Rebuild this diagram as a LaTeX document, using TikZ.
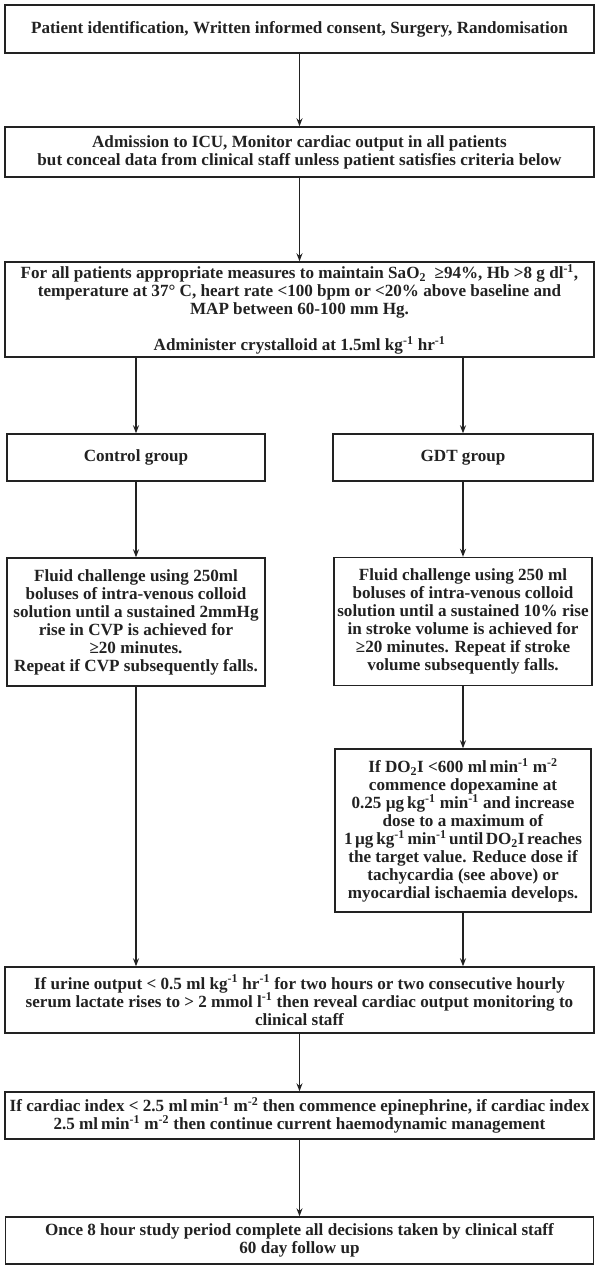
\documentclass[tikz,border=0pt]{standalone}
\usepackage{fontspec}
\setmainfont{Liberation Serif}
\usetikzlibrary{arrows.meta}
\definecolor{ink}{HTML}{222222}
\tikzset{
  box/.style={draw=ink, line width=1.4pt, inner sep=0pt, align=center, text=ink,
    font=\bfseries\fontsize{17.1}{18}\selectfont},
  arr/.style={draw=ink, line width=1.3pt, -{Stealth[length=8pt,width=6pt]}}
}
\newcommand{\sps}[1]{\textsuperscript{#1}}
\begin{document}
\begin{tikzpicture}[x=1pt,y=-1pt]
\useasboundingbox (0,0) rectangle (600,1274);
\node[box, minimum width=589pt, minimum height=48pt] (b1) at (299.5,29)
  {Patient identification, Written informed consent, Surgery, Randomisation};
\node[box, minimum width=589pt, minimum height=50pt] (b2) at (299.5,152)
  {Admission to ICU, Monitor cardiac output in all patients\\
   but conceal data from clinical staff unless patient satisfies criteria below};
\node[box, minimum width=589pt, minimum height=95pt] (b3) at (299.5,309.5)
  {For all patients appropriate measures to maintain SaO\textsubscript{2}\ \ ≥94\%, Hb >8 g dl\sps{-1},\\
   temperature at 37° C, heart rate <100 bpm or <20\% above baseline and\\
   MAP between 60-100 mm Hg.\\[18pt]
   Administer crystalloid at 1.5ml kg\sps{-1} hr\sps{-1}};
\node[box, minimum width=258pt, minimum height=47pt] (ctrl) at (136,457.5) {Control group};
\node[box, minimum width=260pt, minimum height=47pt] (gdt) at (463,457.5) {GDT group};
\node[box, minimum width=258pt, minimum height=128pt] (fl) at (136,622)
  {Fluid challenge using 250ml\\
   boluses of intra-venous colloid\\
   solution until a sustained 2mmHg\\
   rise in CVP is achieved for\\
   ≥20 minutes.\\
   Repeat if CVP subsequently falls.};
\node[box, minimum width=258pt, minimum height=128pt] (fr) at (463,621.5)
  {Fluid challenge using 250 ml\\
   boluses of intra-venous colloid\\
   solution until a sustained 10\% rise\\
   in stroke volume is achieved for\\
   ≥20 minutes. Repeat if stroke\\
   volume subsequently falls.};
\node[box, minimum width=256pt, minimum height=163pt] (do) at (463,830.5)
  {If DO\textsubscript{2}I <600 ml\,min\sps{-1} m\sps{-2}\\
   commence dopexamine at\\
   0.25 µg\,kg\sps{-1} min\sps{-1} and increase\\
   dose to a maximum of\\
   {\spaceskip=0.15em plus 0.1em minus 0.05em 1 µg\,kg\sps{-1} min\sps{-1} until DO\textsubscript{2}I reaches}\\
   the target value. Reduce dose if\\
   tachycardia (see above) or\\
   myocardial ischaemia develops.};
\node[box, minimum width=589pt, minimum height=66pt] (ur) at (299.5,1000)
  {If urine output < 0.5 ml kg\sps{-1} hr\sps{-1} for two hours or two consecutive hourly\\
   serum lactate rises to > 2 mmol l\sps{-1} then reveal cardiac output monitoring to\\
   clinical staff};
\node[box, minimum width=589pt, minimum height=47pt] (ci) at (299.5,1115.5)
  {If cardiac index < 2.5 ml\,min\sps{-1} m\sps{-2} then commence epinephrine, if cardiac index\\
   2.5 ml\,min\sps{-1} m\sps{-2} then continue current haemodynamic management};
\node[box, minimum width=588pt, minimum height=47pt] (fin) at (299.5,1240.5)
  {Once 8 hour study period complete all decisions taken by clinical staff\\
   60 day follow up};
\draw[arr] (b1) -- (b2);
\draw[arr] (b2) -- (b3);
\draw[arr] (b3.south -| ctrl) -- (ctrl);
\draw[arr] (b3.south -| gdt) -- (gdt);
\draw[arr] (ctrl) -- (fl);
\draw[arr] (gdt) -- (fr);
\draw[arr] (fr) -- (do);
\draw[arr] (fl) -- (ur.north -| fl);
\draw[arr] (do) -- (ur.north -| do);
\draw[arr] (ur) -- (ci);
\draw[arr] (ci) -- (fin);
\end{tikzpicture}
\end{document}
